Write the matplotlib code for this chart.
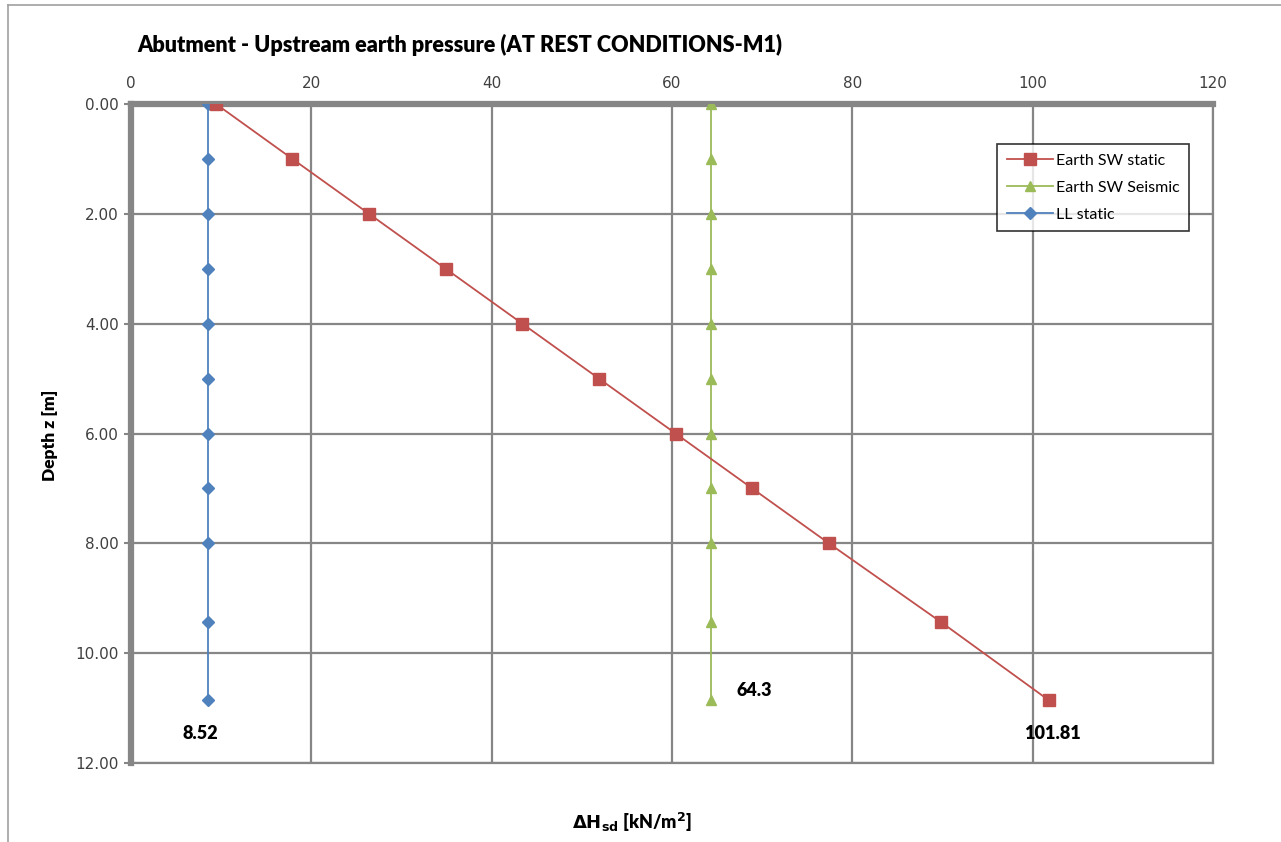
import numpy as np
import matplotlib.pyplot as plt
from matplotlib.lines import Line2D

# data
depth = [0.0, 1.0, 2.0, 3.0, 4.0, 5.0, 6.0, 7.0, 8.0, 9.43, 10.86]
earth_static = [9.43, 17.9, 26.4, 34.9, 43.4, 51.9, 60.4, 68.9, 77.4, 89.8, 101.81]
earth_seismic = [64.3] * len(depth)
ll_static = [8.52] * len(depth)

x_ticks = [0, 20, 40, 60, 80, 100, 120]
y_ticks = [0, 2, 4, 6, 8, 10, 12]

red = '#C0504D'
green = '#9BBB59'
blue = '#4F81BD'
grey = '#868686'

plt.rcParams['font.family'] = ['Lato', 'DejaVu Sans']
heavy = 800

fig = plt.figure(figsize=(12.81, 8.42), dpi=100)
ax = fig.add_axes([131/1281, 1 - 763/842, (1213-131)/1281, (763-104)/842])

ax.plot(earth_static, depth, color=red, lw=1.3, marker='s', ms=8,
        mfc=red, mec=red, label='Earth SW static', zorder=4)
ax.plot(earth_seismic, depth, color=green, lw=1.3, marker='^', ms=7.5,
        mfc=green, mec=green, label='Earth SW Seismic', zorder=3)
ax.plot(ll_static, depth, color=blue, lw=1.3, marker='D', ms=6,
        mfc=blue, mec=blue, label='LL static', zorder=3)

ax.set_xlim(0, 120)
ax.set_ylim(12, 0)
ax.set_xticks(x_ticks)
ax.set_yticks(y_ticks)
ax.set_yticklabels(['%.2f' % v for v in y_ticks])
ax.xaxis.tick_top()
ax.tick_params(axis='x', length=0, pad=9, labelsize=11, labelfontfamily='DejaVu Sans', colors='#404040')
ax.tick_params(axis='y', length=5, width=1.5, direction='out', color=grey,
               pad=4, labelsize=11, labelfontfamily='DejaVu Sans', labelcolor='#404040')

ax.grid(True, color=grey, lw=1.6)
ax.set_axisbelow(True)
for side in ['left', 'top']:
    ax.spines[side].set_color(grey)
    ax.spines[side].set_linewidth(4.5)
for side in ['right', 'bottom']:
    ax.spines[side].set_color(grey)
    ax.spines[side].set_linewidth(1.6)

# end value labels
last = len(depth) - 1
lab_kw = dict(textcoords='offset pixels', ha='center', va='center',
              fontsize=13, fontweight=heavy)
ax.annotate('8.52', (ll_static[last], depth[last]), xytext=(-8, -33), **lab_kw)
ax.annotate('64.3', (earth_seismic[last], depth[last]), xytext=(43, 10), **lab_kw)
ax.annotate('101.81', (earth_static[last], depth[last]), xytext=(3, -33), **lab_kw)

leg = ax.legend(loc='upper left', bbox_to_anchor=((997-131)/1082, 1 - (144-104)/659),
                fontsize=11.5, frameon=True, fancybox=False, edgecolor='black',
                handlelength=2.9, labelspacing=0.8, borderpad=0.6, handletextpad=0.2,
                borderaxespad=0)
leg.get_frame().set_linewidth(1.2)

fig.text(137/1281, 1 - 45/842, 'Abutment - Upstream earth pressure (AT REST CONDITIONS-M1)',
         fontsize=15.6, fontweight=heavy, ha='left', va='center')
fig.text(50/1281, 1 - 435/842, 'Depth z [m]', rotation=90, fontsize=12.5,
         fontweight=heavy, ha='center', va='center')
fig.text(632/1281, 1 - 822/842, r'$\mathbf{\Delta H_{sd}}$ [kN/m$\mathbf{^2}$]', fontsize=13,
         fontweight=heavy, ha='center', va='center')

# outer chart border
fig.add_artist(Line2D([8/1281, 8/1281], [0, 1 - 5/842], color='#a0a0a0', lw=1.2))
fig.add_artist(Line2D([8/1281, 1], [1 - 5/842, 1 - 5/842], color='#a0a0a0', lw=1.2))

fig.savefig('out.png', dpi=100)
